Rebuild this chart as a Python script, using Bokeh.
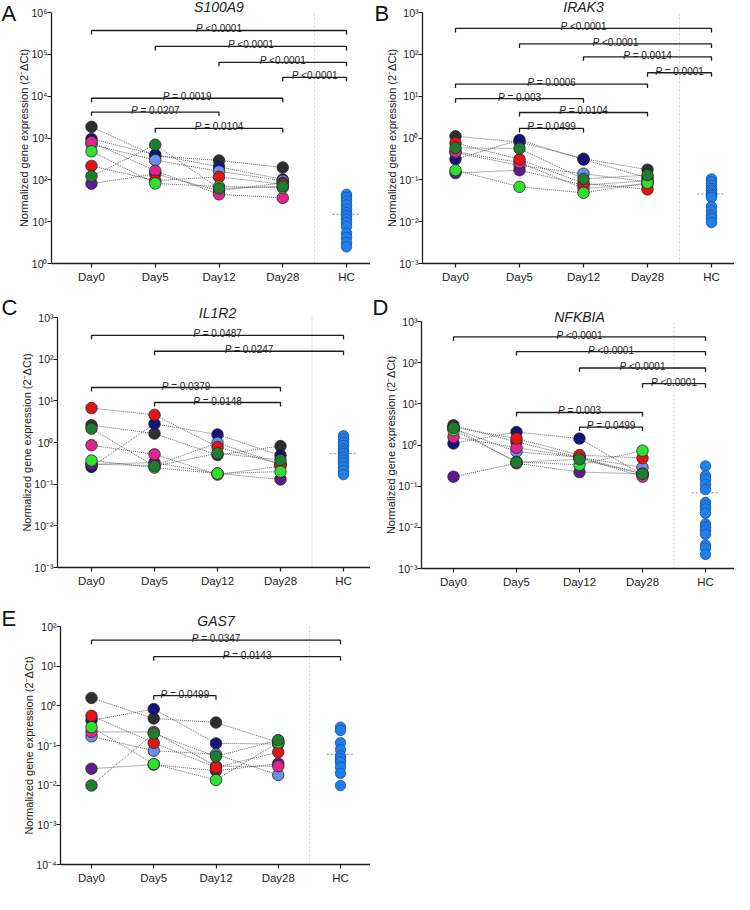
import numpy as np
from bokeh.plotting import figure
from bokeh.models import (Range1d, FixedTicker, CustomJSTickFormatter, Label,
                          ColumnDataSource)
from bokeh.layouts import column, row
from bokeh.embed import file_html
from bokeh.resources import INLINE
from bokeh.core.properties import value

# ---------------- data ----------------
timepoints = ["Day0", "Day5", "Day12", "Day28", "HC"]
x_index = [0, 1, 2, 3, 4]
# patients: black, navy, light blue, purple, magenta, red, green, dark green
patient_colors = ["#2e2e2e", "#13137a", "#6a90ee", "#5e1b8e", "#e0268e",
                  "#e31414", "#2fe02f", "#1e7d2e"]
hc_color = "#1f80ec"

# S100A9
s100a9_day0 = [1850, 950, 700, 81, 800, 215, 480, 122]
s100a9_day5 = [370, 400, 295, 138, 165, 96, 82, 690]
s100a9_day12 = [290, 205, 160, 55, 45, 118, 69, 62]
s100a9_day28 = [197, 102, 95, 85, 37, 78, 65, 70]
s100a9_hc = [45, 38, 31, 25, 20, 16.5, 14, 11.5, 9.5, 7.6, 5.3, 4.2, 3.2, 2.5]
s100a9_hc_median = 15
s100a9_pairs = [(0, 4), (1, 4), (2, 4), (3, 4), (0, 3), (0, 2), (1, 3)]
s100a9_pvals = ["<0.0001", "<0.0001", "<0.0001", "<0.0001", "= 0.0019", "= 0.0207", "= 0.0104"]
s100a9_yticks = [1e0, 1e1, 1e2, 1e3, 1e4, 1e5, 1e6]

# IRAK3
irak3_day0 = [1.1, 0.31, 0.45, 0.145, 0.47, 0.76, 0.17, 0.58]
irak3_day5 = [0.8, 0.9, 0.22, 0.17, 0.26, 0.31, 0.068, 0.56]
irak3_day12 = [0.32, 0.305, 0.14, 0.075, 0.062, 0.083, 0.049, 0.105]
irak3_day28 = [0.175, 0.112, 0.09, 0.095, 0.078, 0.059, 0.085, 0.13]
irak3_hc = [0.105, 0.09, 0.075, 0.062, 0.055, 0.047, 0.042, 0.038, 0.023, 0.018, 0.014, 0.012, 0.0095]
irak3_hc_median = 0.046
irak3_pairs = [(0, 4), (1, 4), (2, 4), (3, 4), (0, 3), (0, 2), (1, 3), (1, 2)]
irak3_pvals = ["<0.0001", "<0.0001", "= 0.0014", "= 0.0001", "= 0.0006", "= 0.003", "= 0.0104", "= 0.0499"]
irak3_yticks = [1e-3, 1e-2, 1e-1, 1e0, 1e1, 1e2, 1e3]

# IL1R2
il1r2_day0 = [2.6, 0.26, 0.3, 0.3, 0.86, 6.7, 0.37, 2.15]
il1r2_day5 = [1.64, 2.8, 0.28, 0.33, 0.52, 4.6, 0.25, 0.27]
il1r2_day12 = [0.50, 1.56, 0.98, 0.18, 0.17, 0.78, 0.18, 0.55]
il1r2_day28 = [0.82, 0.49, 0.3, 0.13, 0.27, 0.3, 0.2, 0.38]
il1r2_hc = [1.45, 1.2, 1.0, 0.85, 0.7, 0.6, 0.54, 0.45, 0.38, 0.32, 0.26, 0.21, 0.17]
il1r2_hc_median = 0.54
il1r2_pairs = [(0, 4), (1, 4), (0, 3), (1, 3)]
il1r2_pvals = ["= 0.0487", "= 0.0247", "= 0.0379", "= 0.0148"]
il1r2_yticks = [1e-3, 1e-2, 1e-1, 1e0, 1e1, 1e2, 1e3]

# NFKBIA
nfkbia_day0 = [3.0, 1.09, 2.5, 0.17, 1.57, 2.7, 2.3, 2.6]
nfkbia_day5 = [1.19, 2.07, 0.69, 0.36, 0.86, 1.43, 0.39, 0.38]
nfkbia_day12 = [0.50, 1.43, 0.5, 0.22, 0.5, 0.57, 0.33, 0.45]
nfkbia_day28 = [0.2, 0.19, 0.285, 0.2, 0.17, 0.48, 0.73, 0.2]
nfkbia_hc = [0.31, 0.18, 0.145, 0.11, 0.083, 0.04, 0.033, 0.028, 0.022, 0.012, 0.01,
             0.0085, 0.0068, 0.0037, 0.0031, 0.0022]
nfkbia_hc_median = 0.069
nfkbia_pairs = [(0, 4), (1, 4), (2, 4), (3, 4), (1, 3), (2, 3)]
nfkbia_pvals = ["<0.0001", "<0.0001", "<0.0001", "<0.0001", "= 0.003", "= 0.0499"]
nfkbia_yticks = [1e-3, 1e-2, 1e-1, 1e0, 1e1, 1e2, 1e3]

# GAS7
gas7_day0 = [1.58, 0.43, 0.17, 0.026, 0.22, 0.56, 0.29, 0.0098]
gas7_day5 = [0.48, 0.83, 0.074, 0.033, 0.22, 0.117, 0.034, 0.2]
gas7_day12 = [0.38, 0.113, 0.06, 0.023, 0.03, 0.028, 0.0135, 0.053]
gas7_day28 = [0.12, 0.109, 0.018, 0.035, 0.03, 0.068, 0.12, 0.137]
gas7_hc = [0.29, 0.24, 0.117, 0.079, 0.055, 0.046, 0.038, 0.0285, 0.02, 0.0098]
gas7_hc_median = 0.06
gas7_pairs = [(0, 4), (1, 4), (1, 2)]
gas7_pvals = ["= 0.0347", "= 0.0143", "= 0.0499"]
gas7_yticks = [1e-4, 1e-3, 1e-2, 1e-1, 1e0, 1e1, 1e2]

# ---------------- styling helpers ----------------
FONT = "Liberation Sans"
INK = "#1c1c1c"
TXT = "#222222"
ylabel = "Normalized gene expression (2\u207b\u0394Ct)"

CHAR_W = {"P": 0.667, " ": 0.278, "<": 0.584, "=": 0.584, ".": 0.278}


def text_w(s, fs):
    return fs * sum(CHAR_W.get(c, 0.556) for c in s)


sup_js = """
const sup = {"-": "\u207b", "0": "\u2070", "1": "\u00b9", "2": "\u00b2", "3": "\u00b3",
             "4": "\u2074", "5": "\u2075", "6": "\u2076", "7": "\u2077", "8": "\u2078", "9": "\u2079"};
const e = Math.round(Math.log10(tick));
return "10" + String(e).split("").map((c) => sup[c]).join("");
"""


def make_panel(gene, letter, d0, d5, d12, d28, hc, hc_med, pairs, pvals, yticks,
               geom, levels):
    # geom (page pixels): canvas x0, y0, width, height, y-axis x, Day0 x, HC x,
    # axis top y, axis bottom y, letter x, letter top y, title centre y
    (cx0, cy0, W, H, ax_x, d0_x, hc_x, ax_top, ax_bot, let_x, let_y, tit_y) = geom
    step = (hc_x - d0_x) / 4.0
    lo, hi = np.log10(yticks[0]), np.log10(yticks[-1])
    ppd = (ax_bot - ax_top) / (hi - lo)

    def dx(px):
        return (px - d0_x) / step

    def dy(py):
        return 10 ** (lo + (ax_bot - py) / ppd)

    p = figure(width=W, height=H, y_axis_type="log",
               x_range=Range1d(dx(cx0), dx(cx0 + W)),
               y_range=Range1d(dy(cy0 + H), dy(cy0)),
               output_backend="svg", toolbar_location=None,
               min_border=0, min_border_left=0, min_border_right=0,
               min_border_top=0, min_border_bottom=0)
    p.outline_line_color = None
    p.grid.visible = False
    p.background_fill_color = "white"
    p.border_fill_color = "white"

    tick_f = 10 ** (-4.0 / ppd)
    y_lo, y_hi = yticks[0], yticks[-1]
    x_ax = dx(ax_x)

    # axes drawn at fixed locations inside the frame
    p.xaxis.fixed_location = y_lo
    p.xaxis.bounds = (x_ax, dx(cx0 + W))
    p.yaxis.fixed_location = x_ax
    p.yaxis.bounds = (y_lo, y_hi)
    p.xaxis.ticker = FixedTicker(ticks=x_index)
    p.xaxis.major_label_overrides = {i: t for i, t in zip(x_index, timepoints)}
    p.yaxis.ticker = FixedTicker(ticks=yticks)
    p.yaxis.formatter = CustomJSTickFormatter(code=sup_js)
    for ax in p.axis:
        ax.axis_line_color = INK
        ax.axis_line_width = 1.3
        ax.major_tick_line_color = INK
        ax.major_tick_line_width = 1.2
        ax.major_tick_in = 0
        ax.major_tick_out = 4
        ax.minor_tick_line_color = None
        ax.major_label_text_font = FONT
        ax.major_label_text_color = TXT
    p.xaxis.major_label_text_font_size = "11.5px"
    p.xaxis.major_label_standoff = 3
    p.yaxis.major_label_text_font_size = "10.5px"
    p.yaxis.major_label_standoff = 0
    p.yaxis.axis_label = ylabel
    p.yaxis.axis_label_text_font = FONT
    p.yaxis.axis_label_text_font_style = "normal"
    p.yaxis.axis_label_text_font_size = "11px"
    p.yaxis.axis_label_text_color = TXT
    p.yaxis.axis_label_standoff = -2

    # separator between patients and healthy controls
    p.segment(x0=[3.5], x1=[3.5], y0=[y_lo], y1=[y_hi], line_color="#cfcfcf",
              line_width=1, line_dash="2 2")

    # patient trajectories
    days = [d0, d5, d12, d28]
    ys = [list(v) for v in zip(*days)]
    xs = [x_index[:4] for _ in ys]
    p.multi_line(xs, ys, line_color="#555555", line_width=0.9, line_dash="1 1")

    px, py, pc = [], [], []
    for di, dvals in enumerate(days):
        for ci, v in enumerate(dvals):
            px.append(x_index[di])
            py.append(v)
            pc.append(patient_colors[ci])
    p.scatter(x=px, y=py, size=11.5, fill_color=pc, line_color="#262626",
              line_width=0.8)

    # healthy controls
    p.segment(x0=[x_index[4] - 0.22], x1=[x_index[4] + 0.22], y0=[hc_med], y1=[hc_med],
              line_color="#8a8a8a", line_width=1, line_dash="2 2")
    p.scatter(x=[x_index[4]] * len(hc), y=hc, size=10.5, fill_color=hc_color,
              line_color="#1a4fa0", line_width=0.8)

    # significance brackets
    bxs, bys = [], []
    tx, ty, tp_off, tr_off = [], [], [], []
    for (a, b), pv, lv in zip(pairs, pvals, levels):
        yl = 10 ** lv
        bxs.append([x_index[a], x_index[a], x_index[b], x_index[b]])
        bys.append([yl * tick_f, yl, yl, yl * tick_f])
        w = text_w("P " + pv, 10)
        tx.append((x_index[a] + x_index[b]) / 2)
        ty.append(yl)
        tp_off.append(-w / 2)
        tr_off.append(-w / 2 + text_w("P ", 10))
    p.multi_line(bxs, bys, line_color=INK, line_width=1.3)
    src = ColumnDataSource(dict(x=tx, y=ty, po=tp_off, ro=tr_off, rest=list(pvals),
                                P=["P"] * len(tx)))
    p.text(x="x", y="y", text="P", source=src, x_offset="po", y_offset=-1.5,
           text_font=value(FONT), text_font_style="italic", text_font_size="10px",
           text_align="left", text_baseline="alphabetic", text_color=TXT)
    p.text(x="x", y="y", text="rest", source=src, x_offset="ro", y_offset=-1.5,
           text_font=value(FONT), text_font_size="10px",
           text_align="left", text_baseline="alphabetic", text_color=TXT)

    # title and panel letter
    p.add_layout(Label(x=2, y=dy(tit_y), text=gene, text_align="center",
                       text_baseline="middle", text_font=FONT,
                       text_font_style="italic", text_font_size="14px",
                       text_color=TXT))
    p.add_layout(Label(x=dx(let_x), y=dy(let_y), text=letter, text_align="left",
                       text_baseline="top", text_font=FONT, text_font_size="22px",
                       text_color="#111111"))
    return p


pa = make_panel("S100A9", "A", s100a9_day0, s100a9_day5, s100a9_day12, s100a9_day28,
                s100a9_hc, s100a9_hc_median, s100a9_pairs, s100a9_pvals, s100a9_yticks,
                (8, 8, 370, 289, 59, 99, 354, 20, 271, 9, 8, 14),
                [5.57, 5.19, 4.81, 4.45, 3.95, 3.62, 3.23])
pb = make_panel("IRAK3", "B", irak3_day0, irak3_day5, irak3_day12, irak3_day28,
                irak3_hc, irak3_hc_median, irak3_pairs, irak3_pvals, irak3_yticks,
                (378, 8, 364, 289, 430, 463, 719, 20, 271, 382, 8, 14),
                [2.62, 2.25, 1.94, 1.56, 1.29, 0.94, 0.61, 0.23])
pc = make_panel("IL1R2", "C", il1r2_day0, il1r2_day5, il1r2_day12, il1r2_day28,
                il1r2_hc, il1r2_hc_median, il1r2_pairs, il1r2_pvals, il1r2_yticks,
                (8, 297, 370, 300, 65, 99, 351, 325, 575, 9, 302, 320),
                [2.57, 2.19, 1.32, 0.96])
pd_ = make_panel("NFKBIA", "D", nfkbia_day0, nfkbia_day5, nfkbia_day12, nfkbia_day28,
                 nfkbia_hc, nfkbia_hc_median, nfkbia_pairs, nfkbia_pvals, nfkbia_yticks,
                 (378, 297, 364, 300, 429, 461, 713, 329, 576, 380, 302, 324),
                 [2.625, 2.27, 1.87, 1.49, 0.79, 0.435])
pe = make_panel("GAS7", "E", gas7_day0, gas7_day5, gas7_day12, gas7_day28,
                gas7_hc, gas7_hc_median, gas7_pairs, gas7_pvals, gas7_yticks,
                (8, 597, 370, 297, 68, 99, 348, 634, 872, 9, 613, 628),
                [1.656, 1.24, 0.255])

layout = column(row(pa, pb), row(pc, pd_), row(pe))
open("out.html", "w").write(file_html(layout, INLINE))
